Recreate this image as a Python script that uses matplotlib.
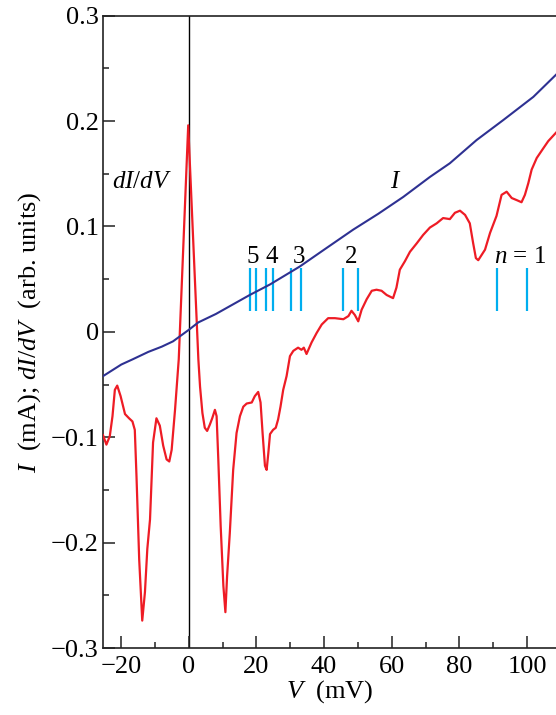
import matplotlib
matplotlib.use("Agg")
import matplotlib.pyplot as plt

plt.rcParams["font.family"] = ["Liberation Serif", "DejaVu Serif"]
plt.rcParams["mathtext.fontset"] = "custom"
plt.rcParams["mathtext.rm"] = "Liberation Serif"
plt.rcParams["mathtext.it"] = "Liberation Serif:italic"

# current I (mA)
i_v = [-25.4, -20.0, -16.6, -12.0, -8.0, -4.7, 0.0, 2.8, 8.0, 13.0, 18.0, 24.0,
       32.8, 40.0, 48.6, 56.0, 63.4, 71.3, 77.2, 85.1, 93.0, 101.9, 108.6]
i_val = [-0.042, -0.031, -0.026, -0.019, -0.014, -0.009, 0.002, 0.009, 0.017, 0.026,
         0.035, 0.045, 0.062, 0.078, 0.097, 0.112, 0.128, 0.147, 0.160, 0.182,
         0.201, 0.223, 0.244]

# dI/dV (arb. units)
g_v = [-25.4, -24.4, -23.4, -22.6, -21.9, -21.2, -20.2, -18.9, -17.7, -16.7, -16.0,
       -15.5, -14.7, -13.8, -13.0, -12.3, -11.5, -10.6, -9.6, -8.6, -7.6, -6.6, -5.8,
       -5.1, -4.1, -3.0, -0.2, 2.8, 3.3, 4.0, 4.7, 5.4, 6.2, 6.9, 7.7, 8.2, 8.7, 9.4,
       10.2, 10.8, 11.3, 12.1, 13.1, 14.1, 15.1, 16.1, 17.1, 18.6, 19.5, 20.5, 21.2,
       21.8, 22.5, 23.0, 23.5, 24.0, 24.9, 25.7, 26.4, 27.1, 27.9, 28.9, 29.9, 30.9,
       32.3, 33.3, 34.0, 34.8, 36.3, 37.8, 39.3, 41.2, 43.2, 45.7, 47.2, 48.1, 49.1,
       50.1, 51.1, 52.6, 54.1, 55.5, 57.0, 58.5, 60.4, 61.4, 62.4, 63.9, 65.4, 67.4,
       69.3, 71.3, 73.3, 75.2, 77.2, 78.7, 80.2, 81.7, 83.1, 84.1, 84.9, 85.6, 86.6,
       87.6, 89.1, 91.0, 92.5, 94.0, 95.5, 97.0, 98.4, 99.4, 100.4, 101.4, 102.9,
       104.8, 106.3, 108.6]
g_val = [-0.098, -0.107, -0.099, -0.080, -0.055, -0.051, -0.061, -0.078, -0.082,
         -0.085, -0.093, -0.137, -0.216, -0.274, -0.247, -0.206, -0.178, -0.105,
         -0.082, -0.089, -0.108, -0.121, -0.123, -0.112, -0.074, -0.026, 0.196,
         -0.026, -0.052, -0.077, -0.091, -0.094, -0.088, -0.082, -0.074, -0.080,
         -0.121, -0.184, -0.241, -0.266, -0.232, -0.191, -0.131, -0.096, -0.080,
         -0.071, -0.068, -0.067, -0.061, -0.057, -0.067, -0.096, -0.127, -0.131,
         -0.115, -0.097, -0.093, -0.091, -0.083, -0.071, -0.055, -0.042, -0.023,
         -0.018, -0.015, -0.017, -0.015, -0.021, -0.010, -0.001, 0.007, 0.013, 0.013,
         0.012, 0.015, 0.020, 0.016, 0.010, 0.021, 0.031, 0.039, 0.040, 0.039, 0.035,
         0.032, 0.042, 0.059, 0.067, 0.076, 0.084, 0.092, 0.099, 0.103, 0.108, 0.107,
         0.113, 0.115, 0.111, 0.103, 0.084, 0.070, 0.068, 0.073, 0.078, 0.094, 0.110,
         0.130, 0.133, 0.127, 0.125, 0.123, 0.130, 0.141, 0.154, 0.165, 0.174, 0.181,
         0.189]

# resonance markers
marks = [18.0, 19.8, 22.7, 24.8, 30.2, 33.1, 45.5, 49.9, 91.1, 100.0]
mark_labels = [("5", 19.0), ("4", 24.4), ("3", 32.5), ("2", 48.0)]

RED = "#ee1c25"
BLUE = "#2e3192"
CYAN = "#00aeef"

fig = plt.figure(figsize=(5.56, 7.15), dpi=100)
ax = fig.add_axes([0.1853, 0.0937, 0.8147, 0.8843])

ax.axvline(0, color="black", lw=1.0, zorder=1)
ax.plot(g_v, g_val, color=RED, lw=1.6, zorder=3)
ax.plot(i_v, i_val, color=BLUE, lw=1.5, zorder=3)
ax.vlines(marks, 0.0195, 0.061, color=CYAN, lw=1.6, zorder=2)

for txt, xv in mark_labels:
    ax.text(xv, 0.0715, txt, fontsize=18, ha="center", va="center")
ax.text(98.0, 0.0715, r"$n$ = 1", fontsize=18, ha="center", va="center")
ax.text(-14.0, 0.142, r"$dI/dV$", fontsize=18, ha="center", va="center")
ax.text(61.2, 0.142, r"$I$", fontsize=18, ha="center", va="center")

ax.set_xlim(-25.4, 108.6)
ax.set_ylim(-0.3, 0.3)
ax.set_xticks([-20, 0, 20, 40, 60, 80, 100])
ax.set_xticks(range(-20, 110, 10), minor=True)
ax.set_yticks([-0.3, -0.2, -0.1, 0, 0.1, 0.2, 0.3])
ax.set_yticklabels(["\u22120.3", "\u22120.2", "\u22120.1", "0", "0.1", "0.2", "0.3"])
ax.set_yticks([-0.25, -0.15, -0.05, 0.05, 0.15, 0.25], minor=True)
ax.tick_params(which="both", direction="in", top=False, right=False,
               labelsize=19, width=1.1, color="#222222")
ax.tick_params(which="major", length=8.5)
ax.tick_params(which="minor", length=4.5)
ax.tick_params(axis="x", which="major", pad=6)
ax.tick_params(axis="y", which="major", pad=3)
ax.spines["right"].set_visible(False)
for s in ["left", "bottom", "top"]:
    ax.spines[s].set_linewidth(1.2)
    ax.spines[s].set_color("#222222")

ax.set_xlabel(r"$V$  (mV)", fontsize=19, labelpad=0)
ax.set_ylabel(r"$I$  (mA); $dI/dV$  (arb. units)", fontsize=19, labelpad=6)

fig.savefig("out.png", dpi=100)
